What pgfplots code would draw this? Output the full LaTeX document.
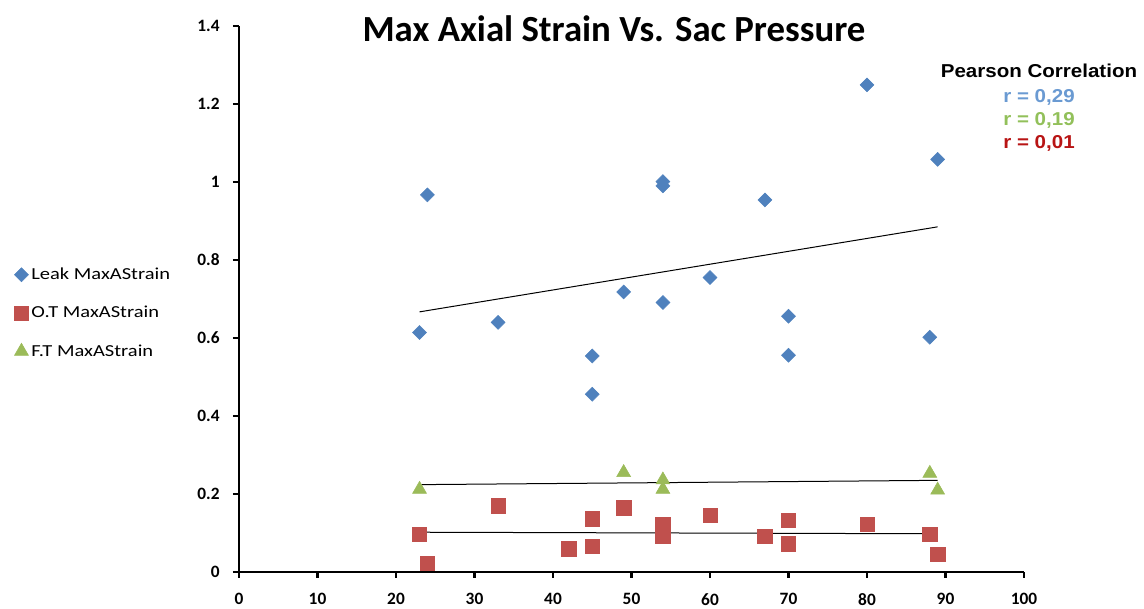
\documentclass[border=0pt]{standalone}
\usepackage{fontspec}
\setmainfont{Carlito}
\newfontfamily\legfont[FakeStretch=1.22]{Carlito}
\newfontfamily\arialfont[FakeStretch=1.1]{Liberation Sans}
\usepackage{pgfplots}
\pgfplotsset{compat=1.18}
\definecolor{leak}{HTML}{4F81BD}
\definecolor{ot}{HTML}{C0504D}
\definecolor{ft}{HTML}{9BBB59}
\definecolor{rblue}{HTML}{6A9AD2}
\definecolor{rgreen}{HTML}{92C05A}
\definecolor{rred}{HTML}{B81414}
\begin{document}
\begin{tikzpicture}
\useasboundingbox (-179.25pt,-27.75pt) rectangle (678.75pt,429pt);
\begin{axis}[
  scale only axis, width=588.75pt, height=409.5pt,
  xmin=0, xmax=100, ymin=0, ymax=1.4,
  axis lines=left,
  axis line style={line width=1.8pt, -},
  xtick={0,10,...,100}, ytick={0,0.2,0.4,0.6,0.8,1,1.2,1.4},
  tick align=outside,
  major tick length=4.5pt,
  major tick style={line width=1.8pt, black},
  tick label style={font=\bfseries\fontsize{13}{15}\selectfont},
  /pgf/number format/assume math mode=true,
  xticklabel style={yshift=-8pt},
  yticklabel style={xshift=-6.5pt},
  clip=false,
  legend style={at={(-0.2917,0.4744)}, anchor=west, draw=none, fill=none,
    font=\legfont\fontsize{12.6}{15}\selectfont, row sep=14.5pt},
  legend cell align=left,
]
\addplot[only marks, mark=square*, mark size=3.7pt, mark options={rotate=45, fill=leak, draw=leak}] coordinates {
(24,0.967) (23,0.614) (33,0.640) (45,0.554) (45,0.456) (49,0.718)
(54,1.001) (54,0.990) (54,0.691) (60,0.755) (67,0.954) (70,0.656)
(70,0.556) (80,1.249) (88,0.602) (89,1.058)
};
\addlegendentry{Leak MaxAStrain}
\addplot[only marks, mark=square*, mark size=5.4pt, mark options={fill=ot, draw=ot}] coordinates {
(23,0.097) (24,0.022) (33,0.170) (42,0.060) (45,0.137) (45,0.066)
(49,0.165) (54,0.122) (54,0.092) (60,0.146) (67,0.091) (70,0.132)
(70,0.072) (80,0.122) (88,0.097) (89,0.045)
};
\addlegendentry{O.T MaxAStrain}
\addplot[only marks, mark=triangle*, mark size=6pt, mark options={fill=ft, draw=ft}] coordinates {
(23,0.212) (49,0.255) (54,0.236) (54,0.212) (88,0.253) (89,0.210)
};
\addlegendentry{F.T MaxAStrain}
\addplot[black, line width=0.75pt, forget plot] coordinates {(23,0.667) (89,0.885)};
\addplot[black, line width=0.75pt, forget plot] coordinates {(23,0.102) (89,0.098)};
\addplot[black, line width=0.75pt, forget plot] coordinates {(23,0.224) (89,0.235)};
\end{axis}
\node[font=\bfseries\fontsize{27.6}{30}\selectfont] at (281.25pt,407.25pt) {Max Axial Strain Vs. Sac Pressure};
\node[font=\arialfont\bfseries\fontsize{14}{16}\selectfont] at (600pt,375.75pt) {Pearson Correlation};
\node[font=\arialfont\bfseries\fontsize{14}{16}\selectfont, text=rblue] at (600pt,356.25pt) {r = 0,29};
\node[font=\arialfont\bfseries\fontsize{14}{16}\selectfont, text=rgreen] at (600pt,339pt) {r = 0,19};
\node[font=\arialfont\bfseries\fontsize{14}{16}\selectfont, text=rred] at (600pt,321.75pt) {r = 0,01};
\end{tikzpicture}
\end{document}
